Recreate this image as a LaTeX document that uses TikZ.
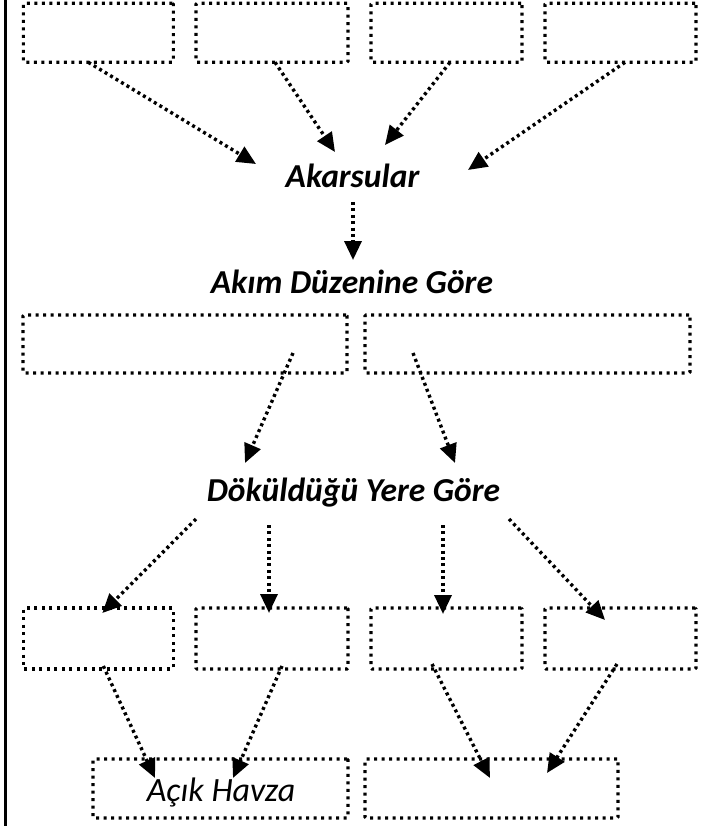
\documentclass[tikz,border=0pt]{standalone}
\usepackage{fontspec}
\setmainfont{Carlito}
\usetikzlibrary{arrows.meta}
\begin{document}
\begin{tikzpicture}[x=1pt,y=-1pt,
  box/.style={draw, line width=3.1pt, dash pattern=on 3pt off 4.5pt,
    rounded corners=1pt, inner sep=0pt, outer sep=0pt, minimum height=59pt},
  arr/.style={line width=3.4pt, dash pattern=on 3pt off 3.4pt,
    -{Triangle[length=19pt,width=17pt]}},
  head/.style={anchor=base, inner sep=0pt, font=\fontsize{33.5}{40}\selectfont\bfseries\itshape},
  plain/.style={anchor=base, inner sep=0pt, font=\fontsize{34}{40}\selectfont\itshape}]
\useasboundingbox (0,0) rectangle (708,826);
\draw[line width=3.2pt] (5.5,0) -- (5.5,826);

% top row
\node[box, minimum width=150pt] (b1) at (98.3,32.8) {};
\node[box, minimum width=152pt] (b2) at (272,32.8) {};
\node[box, minimum width=151pt] (b3) at (446.5,32.8) {};
\node[box, minimum width=151pt] (b4) at (620.5,32.8) {};

\node[head] (akar) at (352.5,188) {Akarsular};
\coordinate (k1) at (256,164);
\coordinate (k2) at (335,152);
\coordinate (k3) at (385,145);
\coordinate (k4) at (468,170);
\draw[arr] ([xshift=-10pt]b1.south) -- (k1);
\draw[arr] ([xshift=3pt]b2.south) -- (k2);
\draw[arr] ([xshift=3.5pt]b3.south) -- (k3);
\draw[arr] ([xshift=4.5pt]b4.south) -- (k4);

\node[head] (akim) at (352,293) {Akım Düzenine Göre};
\coordinate (a0) at (353,202);
\coordinate (a1) at (353,260);
\draw[arr] (a0) -- (a1);

% middle row
\node[box, minimum width=324pt, minimum height=58pt] (mA) at (185,344) {};
\node[box, minimum width=325pt, minimum height=58pt] (mB) at (527.5,344) {};

\node[head] (dok) at (353.5,501) {Döküldüğü Yere Göre};
\coordinate (m1) at (245,463);
\coordinate (m2) at (455,463);
\draw[arr] ([xshift=108pt,yshift=20pt]mA.south) -- (m1);
\draw[arr] ([xshift=-114.5pt,yshift=20pt]mB.south) -- (m2);

% lower row
\node[box, minimum width=150pt, minimum height=61pt] (c1) at (98.3,638.5) {};
\node[box, minimum width=152pt, minimum height=61pt] (c2) at (272,638.5) {};
\node[box, minimum width=151pt, minimum height=61pt] (c3) at (446.5,638.5) {};
\node[box, minimum width=151pt, minimum height=61pt] (c4) at (620.5,638.5) {};

\coordinate (s1) at (196,519);
\coordinate (s2) at (269,525);
\coordinate (s3) at (443,525);
\coordinate (s4) at (509,519);
\draw[arr] (s1) -- ([xshift=4pt,yshift=-5pt]c1.north);
\draw[arr] (s2) -- ([xshift=-3pt,yshift=-5pt]c2.north);
\draw[arr] (s3) -- ([xshift=-3.5pt,yshift=-6pt]c3.north);
\draw[arr] (s4) -- ([xshift=-15.5pt,yshift=-12pt]c4.north);

% bottom row
\node[box, minimum width=255pt] (d1) at (220.5,788.5) {};
\node[box, minimum width=253pt] (d2) at (491.5,788.5) {};
\node[plain] (acik) at (221,801) {Açık Havza};

\draw[arr] ([xshift=5pt,yshift=3pt]c1.south) -- ([xshift=-65.5pt,yshift=-19pt]d1.north);
\draw[arr] ([xshift=10pt,yshift=3pt]c2.south) -- ([xshift=12.5pt,yshift=-19pt]d1.north);
\draw[arr] ([xshift=-14.5pt,yshift=5pt]c3.south) -- ([xshift=-1.5pt,yshift=-19pt]d2.north);
\draw[arr] ([xshift=-3.5pt,yshift=5pt]c4.south) -- ([xshift=55.5pt,yshift=-14pt]d2.north);
\end{tikzpicture}
\end{document}
